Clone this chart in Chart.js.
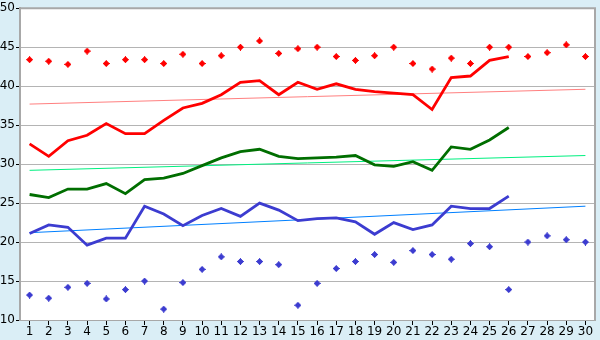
<!DOCTYPE html>
<html><head><meta charset="utf-8">
<script src="https://cdn.jsdelivr.net/npm/chart.js@4/dist/chart.umd.min.js"></script>
<style>html,body{margin:0;padding:0;background:#daeef6;}#wrap{width:600px;height:340px;}</style>
</head><body><div id="wrap"><canvas id="c" width="600" height="340"></canvas></div>
<script>
const days = ['1','2','3','4','5','6','7','8','9','10','11','12','13','14','15','16','17','18','19','20','21','22','23','24','25','26','27','28','29','30'];
const redDots = [43.4,43.2,42.8,44.5,42.9,43.4,43.4,42.9,44.1,42.9,43.9,45.0,45.8,44.2,44.8,45.0,43.8,43.3,43.9,45.0,42.9,42.2,43.6,42.9,45.0,45.0,43.8,44.3,45.3,43.8];
const redLine = [32.6,31.0,33.0,33.7,35.2,33.9,33.9,35.6,37.2,37.8,38.9,40.5,40.7,38.9,40.5,39.6,40.3,39.6,39.3,39.1,38.9,37.0,41.1,41.3,43.3,43.8];
const greenLine = [26.1,25.7,26.8,26.8,27.5,26.2,28.0,28.2,28.8,29.8,30.8,31.6,31.9,31.0,30.7,30.8,30.9,31.1,29.9,29.7,30.3,29.2,32.2,31.9,33.1,34.7];
const blueLine = [21.1,22.2,21.9,19.6,20.5,20.5,24.6,23.6,22.1,23.4,24.3,23.3,25.0,24.1,22.75,23.0,23.1,22.6,21.0,22.5,21.6,22.2,24.6,24.3,24.3,25.9];
const blueDots = [13.2,12.8,14.2,14.7,12.7,13.9,15.0,11.4,14.8,16.5,18.1,17.5,17.5,17.1,11.9,14.7,16.6,17.5,18.4,17.4,18.9,18.4,17.8,19.8,19.4,13.9,20.0,20.8,20.3,20.0];
const redTrendEnds = [37.7, 39.6];
const greenTrendEnds = [29.2, 31.1];
const blueTrendEnds = [21.2, 24.6];
const yTicks = [10,15,20,25,30,35,40,45,50];

function trend(ends){ const a = days.map(()=>null); a[0]=ends[0]; a[a.length-1]=ends[1]; return a; }
function marker(color){
  const pat = ['...X...','..XXX..','.XXXXX.','XXXXXXX','.XXXXX.','..XXX..','...X...'];
  const cv = document.createElement('canvas'); cv.width=7; cv.height=7;
  const g = cv.getContext('2d'); g.fillStyle=color;
  pat.forEach((r,y)=>{for(let x=0;x<r.length;x++) if(r[x]==='X') g.fillRect(x,y,1,1);});
  return cv;
}
const plotBg = {
  id:'plotBg',
  beforeDraw(ch){const a=ch.chartArea,c=ch.ctx;c.save();c.fillStyle='#ffffff';c.fillRect(a.left,a.top,a.right-a.left,a.bottom-a.top);c.restore();},
  afterDraw(ch){const a=ch.chartArea,c=ch.ctx;c.save();c.strokeStyle='#a8a8a8';c.lineWidth=2;c.beginPath();c.moveTo(a.left,a.top);c.lineTo(a.right,a.top);c.lineTo(a.right,a.bottom);c.stroke();c.restore();}
};
const lineDs = (data,color,w,order)=>({type:'line',data,borderColor:color,backgroundColor:color,borderWidth:w,pointRadius:0,tension:0,fill:false,order});
const dotDs = (data,color,order)=>({type:'line',data,showLine:false,pointStyle:marker(color),pointRadius:3.5,pointHoverRadius:3.5,borderColor:color,backgroundColor:color,order});
const trendDs = (ends,color,order)=>Object.assign(lineDs(trend(ends),color,1,order),{spanGaps:true});

new Chart(document.getElementById('c'),{
  type:'line',
  data:{labels:days,datasets:[
    trendDs(redTrendEnds,'#ff8080',10),
    trendDs(greenTrendEnds,'#00f080',10),
    trendDs(blueTrendEnds,'#0080ff',10),
    lineDs(redLine,'#ff0000',2.8,5),
    lineDs(greenLine,'#006e00',2.8,5),
    lineDs(blueLine,'#3c3cd0',2.8,5),
    dotDs(redDots,'#ff0000',1),
    dotDs(blueDots,'#3c3cd0',1)
  ]},
  options:{
    responsive:false,animation:false,
    layout:{padding:{top:5,right:5,left:0,bottom:0}},
    plugins:{legend:{display:false},tooltip:{enabled:false}},
    scales:{
      x:{offset:true,afterFit(s){s.height=20;},
        grid:{drawOnChartArea:false,tickLength:5,tickColor:'#000',offset:false},
        border:{color:'#a8a8a8',width:1},
        ticks:{color:'#000',font:{family:'DejaVu Sans',size:12},padding:0,maxRotation:0,autoSkip:false}},
      y:{min:10,max:50,afterFit(s){s.width=20;},
        afterBuildTicks(s){s.ticks=yTicks.map(v=>({value:v}));},
        grid:{color:'#b4b4b4',lineWidth:1,tickLength:4,tickColor:'#000'},
        border:{color:'#a8a8a8',width:2},
        ticks:{color:'#000',font:{family:'DejaVu Sans',size:12},padding:1}}
    }
  },
  plugins:[plotBg]
});
</script></body></html>
